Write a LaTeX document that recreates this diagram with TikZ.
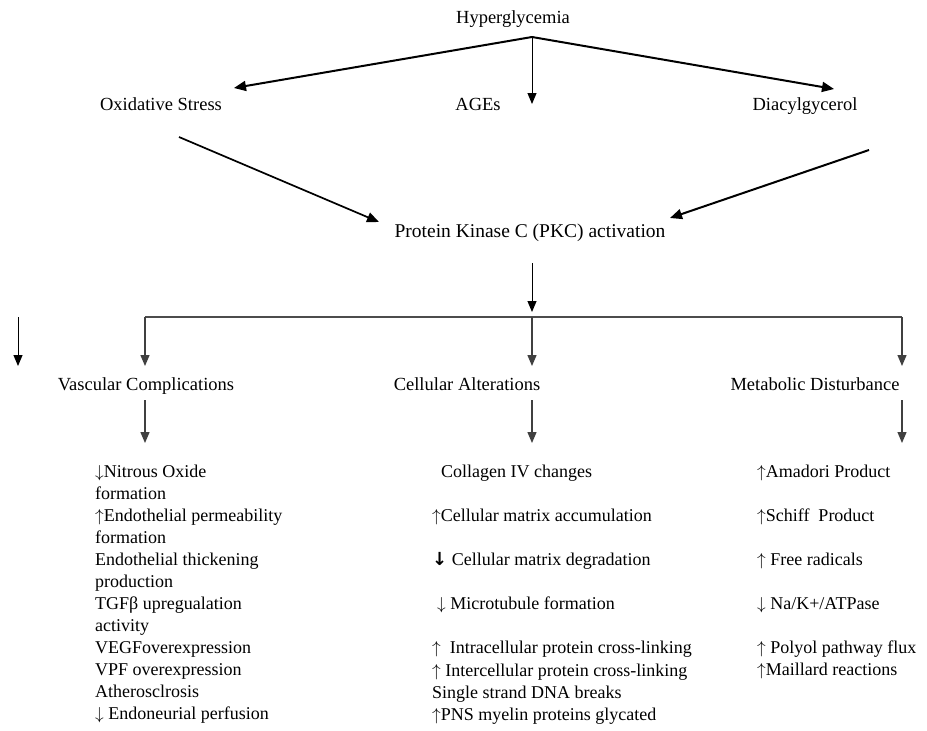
\documentclass[tikz,border=0pt]{standalone}
\usepackage{fontspec}
\setmainfont{Liberation Serif}
\newfontfamily\arrowfont{DejaVu Sans}
\newcommand{\myup}{\ensuremath{\uparrow}}
\newcommand{\mydn}{\ensuremath{\downarrow}}
\usetikzlibrary{arrows.meta}
\begin{document}
\begin{tikzpicture}[x=1pt,y=-1pt,
  lbl/.style={font=\fontsize{18.5}{22}\selectfont, inner sep=0pt, anchor=base},
  item/.style={font=\fontsize{18}{22}\selectfont, inner sep=0pt, anchor=base west},
  arr/.style={-{Triangle[length=11pt,width=9pt]}, line width=1pt},
  tarr/.style={-{Triangle[length=12pt,width=10pt]}, line width=2pt},
  grayarr/.style={-{Triangle[length=11pt,width=9pt]}, line width=1.3pt, draw=black!75, fill=black},
  branch/.style={line width=1.5pt, draw=black!70}
]
\useasboundingbox (0,0) rectangle (927,731);

% top level
\node[lbl] (hyper) at (513,23) {Hyperglycemia};
\coordinate (apex) at (532,37);
\node[lbl] (ox) at (161,110) {Oxidative Stress};
\node[lbl] (ages) at (478,110) {AGEs};
\node[lbl] (dag) at (805,110) {Diacylgycerol};
\coordinate (oxtip) at (234,88);
\coordinate (agestip) at (532,104);
\coordinate (dagtip) at (834,89);
\draw[tarr] (apex) -- (oxtip);
\draw[arr] (apex) -- (agestip);
\draw[tarr] (apex) -- (dagtip);

% to PKC
\node[lbl, font=\fontsize{19.5}{22}\selectfont] (pkc) at (530,237) {Protein Kinase C (PKC) activation};
\coordinate (oxfrom) at (179,137);
\coordinate (pkcL) at (379,222);
\coordinate (dagfrom) at (869,150);
\coordinate (pkcR) at (670,218);
\draw[tarr, line width=1.7pt] (oxfrom) -- (pkcL);
\draw[tarr] (dagfrom) -- (pkcR);

% branching
\coordinate (pkcfrom) at (532,263);
\coordinate (pkctip) at (532,312);
\draw[arr] (pkcfrom) -- (pkctip);
\coordinate (hL) at (145,317);
\coordinate (hM) at (532,317);
\coordinate (hR) at (902,317);
\draw[branch] (hL) -- (hR);
\coordinate (tL) at (145,366);
\coordinate (tM) at (532,366);
\coordinate (tR) at (902,366);
\draw[grayarr] (hL) -- (tL);
\draw[grayarr] (hM) -- (tM);
\draw[grayarr] (hR) -- (tR);
% stray arrow
\coordinate (sA) at (18,317);
\coordinate (sB) at (18,366);
\draw[arr] (sA) -- (sB);

% second level
\node[lbl] (vasc) at (146,390) {Vascular Complications};
\node[lbl] (cell) at (467,390) {Cellular Alterations};
\node[lbl] (meta) at (815,390) {Metabolic Disturbance};
\coordinate (vA) at (145,400);
\coordinate (vB) at (145,443);
\coordinate (cA) at (532,400);
\coordinate (cB) at (532,443);
\coordinate (mA) at (902,400);
\coordinate (mB) at (902,443);
\draw[grayarr] (vA) -- (vB);
\draw[grayarr] (cA) -- (cB);
\draw[grayarr] (mA) -- (mB);

% vascular list
\node[item] (v1) at (95,477) {\mydn Nitrous Oxide};
\node[item] (v2) at (95,499) {formation};
\node[item] (v3) at (95,521) {\myup Endothelial permeability};
\node[item] (v4) at (95,543) {formation};
\node[item] (v5) at (95,565) {Endothelial thickening};
\node[item] (v6) at (95,587) {production};
\node[item] (v7) at (95,609) {TGFβ upregualation};
\node[item] (v8) at (95,631) {activity};
\node[item] (v9) at (95,653) {VEGFoverexpression};
\node[item] (v10) at (95,675) {VPF overexpression};
\node[item] (v11) at (95,697) {Atherosclrosis};
\node[item] (v12) at (95,719) {\mydn\ Endoneurial perfusion};

% cellular list
\node[item] (c1) at (441,477) {Collagen IV changes};
\node[item] (c2) at (432,521) {\myup Cellular matrix accumulation};
\node[item] (c3) at (432,565) {{\arrowfont\bfseries ↓} Cellular matrix degradation};
\node[item] (c4) at (437,609) {\mydn\ Microtubule formation};
\node[item] (c5) at (432,653) {\myup\ \ Intracellular protein cross-linking};
\node[item] (c6) at (432,676) {\myup\ Intercellular protein cross-linking};
\node[item] (c7) at (432,698) {Single strand DNA breaks};
\node[item] (c8) at (432,720) {\myup PNS myelin proteins glycated};

% metabolic list
\node[item] (m1) at (757,477) {\myup Amadori Product};
\node[item] (m2) at (757,521) {\myup Schiff\ \ Product};
\node[item] (m3) at (757,565) {\myup\ Free radicals};
\node[item] (m4) at (757,609) {\mydn\ Na/K+/ATPase};
\node[item] (m5) at (757,653) {\myup\ Polyol pathway flux};
\node[item] (m6) at (757,675) {\myup Maillard reactions};
\end{tikzpicture}
\end{document}
